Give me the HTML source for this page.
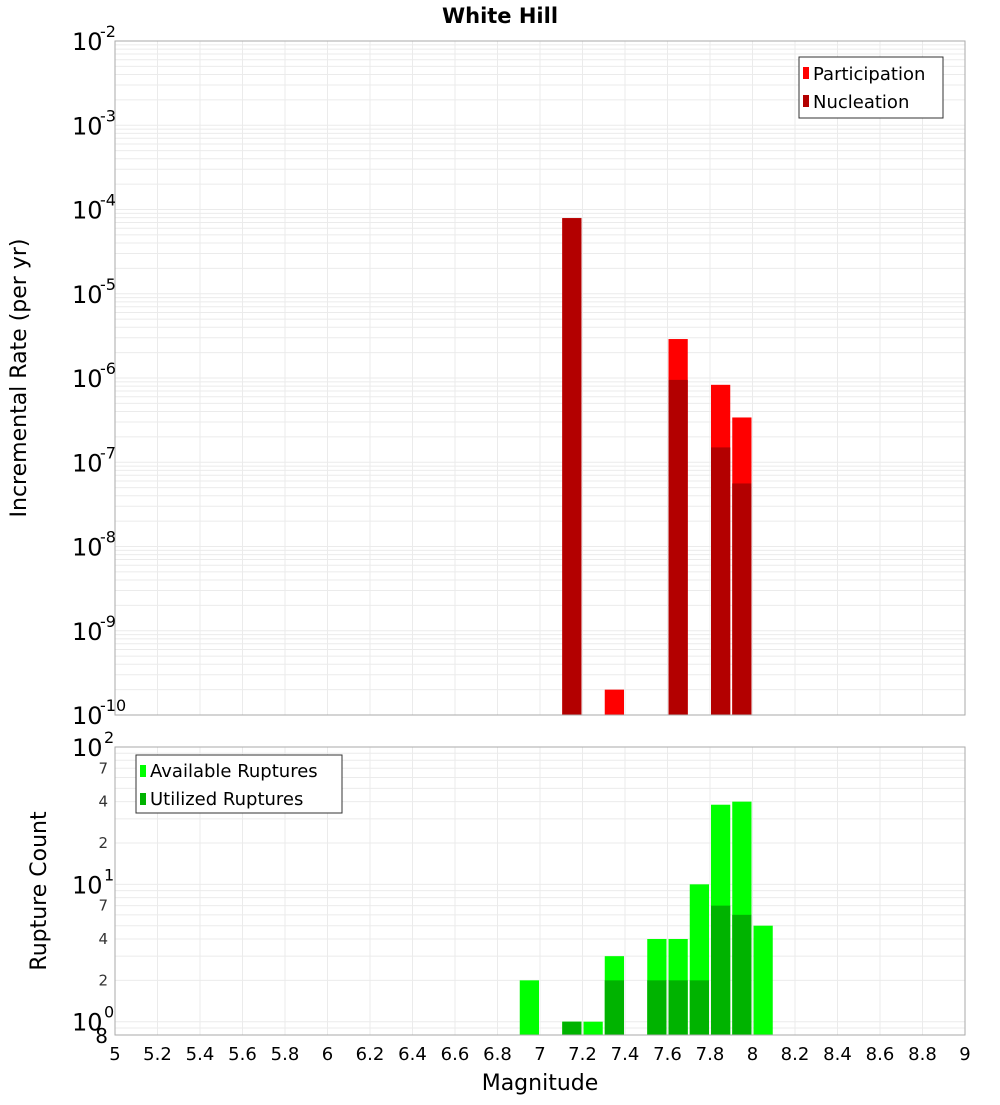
<!DOCTYPE html>
<html><head><meta charset="utf-8"><style>
body{margin:0;background:#fff;font-family:"Liberation Sans","DejaVu Sans",sans-serif}
svg text{font-family:"DejaVu Sans","Liberation Sans",sans-serif}
</style></head><body>
<svg id="chart" width="1000" height="1100" xmlns="http://www.w3.org/2000/svg">
<text x="500" y="23" text-anchor="middle" font-size="21" font-weight="bold">White Hill</text>
<g id="topPlot"></g>
<g id="botPlot"></g>
</svg>
<script>
const bins=[7.15,7.35,7.65,7.85,7.95];
const participation=[7.9e-5,2e-10,2.9e-6,8.3e-7,3.4e-7];
const nucleation=[7.9e-5,0,9.5e-7,1.5e-7,5.6e-8];
const cbins=[6.95,7.15,7.25,7.35,7.55,7.65,7.75,7.85,7.95,8.05];
const available=[2,1,1,3,4,4,10,38,40,5];
const utilized=[0,1,0,2,2,2,2,7,6,0];
const xTicks=[5,5.2,5.4,5.6,5.8,6,6.2,6.4,6.6,6.8,7,7.2,7.4,7.6,7.8,8,8.2,8.4,8.6,8.8,9];
const topExps=[-2,-3,-4,-5,-6,-7,-8,-9,-10];
const NS="http://www.w3.org/2000/svg";
const L=115,R=965;
const X=m=>L+(m-5)/4*(R-L);
const T0=41,T1=715; const YT=v=>T0+(-2-Math.log10(v))/8*(T1-T0);
const B0=747,B1=1035; const YB=v=>B0+(2-Math.log10(v))/(2-Math.log10(0.8))*(B1-B0);
function el(p,tag,a,name,txt){const e=document.createElementNS(NS,tag);for(const k in a)e.setAttribute(k,a[k]);


if(txt!==undefined)e.textContent=txt;p.appendChild(e);return e;}
const gTop=document.getElementById('topPlot'),gBot=document.getElementById('botPlot');
for(const g of [[gTop,T0,T1],[gBot,B0,B1]]){
 for(const t of xTicks) el(g[0],'line',{x1:X(t),x2:X(t),y1:g[1],y2:g[2],stroke:'#ebebeb'},'x-grid-line');
}
for(let e=-10;e<-2;e++)for(let k=1;k<10;k++){const v=k*Math.pow(10,e);el(gTop,'line',{x1:L,x2:R,y1:YT(v),y2:YT(v),stroke:'#ebebeb'},'y-grid-line');}
for(let e=-1;e<2;e++)for(let k=1;k<10;k++){const v=k*Math.pow(10,e);if(v<0.8)continue;el(gBot,'line',{x1:L,x2:R,y1:YB(v),y2:YB(v),stroke:'#ebebeb'},'y-grid-line');}
const bw=(R-L)/40;
bins.forEach((b,i)=>{
 if(participation[i]>0){el(gTop,'rect',{x:X(b)-bw/2+1,y:YT(participation[i]),width:bw-2,height:T1-YT(participation[i]),fill:'#ff0000'},'participation-bar');}
 if(nucleation[i]>0){el(gTop,'rect',{x:X(b)-bw/2+1,y:YT(nucleation[i]),width:bw-2,height:T1-YT(nucleation[i]),fill:'#b30000'},'nucleation-bar');}
});
cbins.forEach((b,i)=>{
 if(available[i]>0){el(gBot,'rect',{x:X(b)-bw/2+1,y:YB(available[i]),width:bw-2,height:B1-YB(available[i]),fill:'#00ff00'},'available-bar');}
 if(utilized[i]>0){el(gBot,'rect',{x:X(b)-bw/2+1,y:YB(utilized[i]),width:bw-2,height:B1-YB(utilized[i]),fill:'#00b300'},'utilized-bar');}
});
el(gTop,'rect',{x:L,y:T0,width:R-L,height:T1-T0,fill:'none',stroke:'#aaa'},'top-plot-frame');
el(gBot,'rect',{x:L,y:B0,width:R-L,height:B1-B0,fill:'none',stroke:'#aaa'},'bottom-plot-frame');
topExps.forEach(e=>{const y=YT(Math.pow(10,e));el(gTop,'text',{x:72,y:y+9,'font-size':24},'y-tick-label','10');
 el(gTop,'text',{x:100,y:y-4,'font-size':16},'y-tick-exponent',String(e));});
[[100,'10','2'],[10,'10','1'],[1,'10','0']].forEach(a=>{const y=YB(a[0]);el(gBot,'text',{x:72,y:y+9,'font-size':24},'y-tick-label',a[1]);el(gBot,'text',{x:104,y:y-4,'font-size':16},'y-tick-exponent',a[2]);});
[7,4,2,70,40,20].forEach(v=>{el(gBot,'text',{x:108,y:YB(v)+5,'font-size':15,'text-anchor':'end',fill:'#333'},'y-minor-label',String(v)[0]);});
el(gBot,'text',{x:108,y:YB(0.8)+8,'font-size':20,'text-anchor':'end'},'y-minor-label','8');
xTicks.forEach(t=>el(gBot,'text',{x:X(t),y:1060,'font-size':18,'text-anchor':'middle'},'x-tick-label',String(t)));
el(gBot,'text',{x:540,y:1090,'font-size':22,'text-anchor':'middle'},'x-axis-title','Magnitude');
el(gTop,'text',{x:0,y:0,'font-size':22,'text-anchor':'middle',transform:'translate(26,378) rotate(-90)'},'y-axis-title','Incremental Rate (per yr)');
el(gBot,'text',{x:0,y:0,'font-size':22,'text-anchor':'middle',transform:'translate(46,891) rotate(-90)'},'y-axis-title','Rupture Count');
el(gTop,'rect',{x:799,y:57,width:144,height:61,fill:'#fff',stroke:'#333'},'legend');
el(gTop,'rect',{x:803,y:67,width:6,height:12,fill:'#ff0000'},'legend-swatch');
el(gTop,'text',{x:813,y:80,'font-size':18},'legend-entry','Participation');
el(gTop,'rect',{x:803,y:95,width:6,height:12,fill:'#b30000'},'legend-swatch');
el(gTop,'text',{x:813,y:108,'font-size':18},'legend-entry','Nucleation');
el(gBot,'rect',{x:136,y:755,width:206,height:58,fill:'#fff',stroke:'#333'},'legend');
el(gBot,'rect',{x:140,y:765,width:6,height:12,fill:'#00ff00'},'legend-swatch');
el(gBot,'text',{x:150,y:777,'font-size':18},'legend-entry','Available Ruptures');
el(gBot,'rect',{x:140,y:793,width:6,height:12,fill:'#00b300'},'legend-swatch');
el(gBot,'text',{x:150,y:805,'font-size':18},'legend-entry','Utilized Ruptures');
</script>
</body></html>
